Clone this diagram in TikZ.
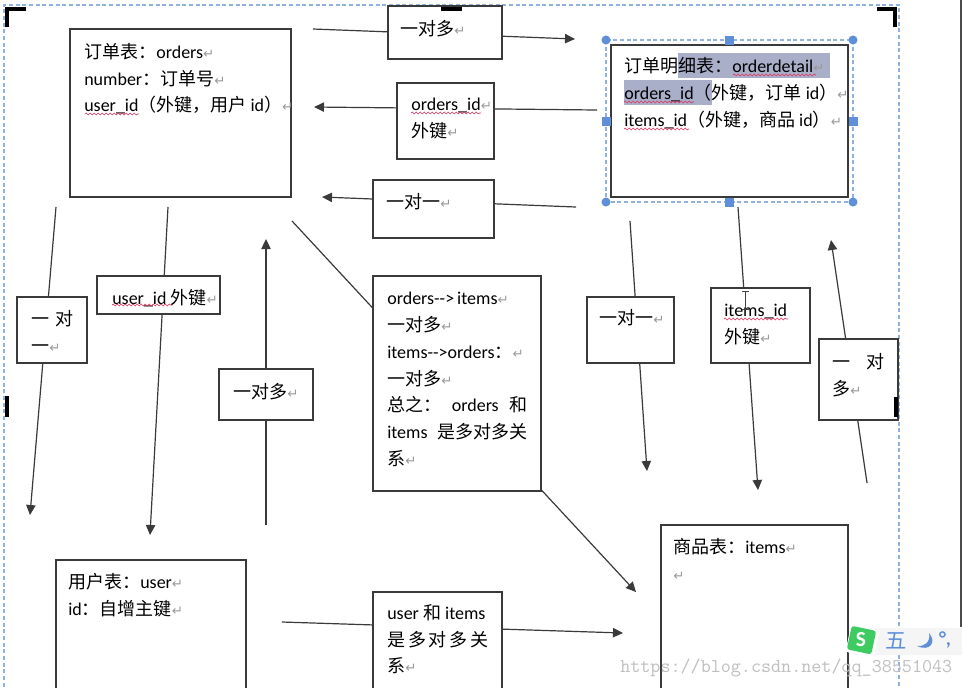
\documentclass[tikz,border=0pt]{standalone}
\usepackage{fontspec}
\setmainfont{Carlito}
\newfontfamily\cjkfont{Noto Sans CJK SC}
\newfontfamily\symfont{DejaVu Sans}
\usetikzlibrary{arrows.meta,decorations.pathmorphing}

\definecolor{linegray}{HTML}{3A3A3A}
\definecolor{retgray}{HTML}{9A9A9A}
\definecolor{handleblue}{HTML}{5F8FD8}
\definecolor{dashblue}{HTML}{8FB2E0}
\definecolor{selgray}{HTML}{A9AEC9}
\definecolor{spellred}{HTML}{E0305A}
\definecolor{imegreen}{HTML}{3DCB62}

\newcommand{\zh}[1]{{\cjkfont #1}}
\newcommand{\ret}{{\color{retgray}\symfont\fontsize{10}{10}\selectfont\char"21B5}}

\tikzset{
  box/.style={line width=1.05pt,draw=linegray},
  lblbox/.style={line width=1.05pt,draw=linegray,fill=white},
  txt/.style={inner sep=0pt,anchor=north west,align=left,
    font=\fontsize{13.5}{20.1}\selectfont,execute at begin node=\strut},
  arrow/.style={line width=0.9pt,draw=linegray,-{Triangle[length=7.5pt,width=7pt]}},
  spell/.style={spellred,line width=0.45pt,decorate,
    decoration={snake,amplitude=0.7pt,segment length=3pt}},
  crop/.style={line width=3pt,black},
  handle/.style={fill=handleblue},
  outline/.style={dashblue,line width=0.9pt,densely dashed}
}

\begin{document}
\begin{tikzpicture} [x=0.75pt,y=-0.75pt]

\useasboundingbox (0,0) rectangle (962,687);
\clip (0,0) rectangle (962,687);
\fill [white] (0,0) rectangle (962,687);

% page frame
\draw [outline] (4,700) -- (4,5) -- (899,5) -- (899,700);
\draw [line width=0.9pt,black!70] (961,0) -- (961,627);

% selected text
\fill [selgray] (678,53) rectangle (830,78);
\fill [selgray] (624,80) rectangle (712,105);

% free ends
\coordinate (topA) at (313,29);
\coordinate (topB) at (575,39);
\coordinate (fkA) at (597,110);
\coordinate (fkB) at (314,107);
\coordinate (oneA) at (576,207);
\coordinate (oneB) at (322,197);
\coordinate (leftA) at (56,207);
\coordinate (leftB) at (30,515);
\coordinate (userA) at (168,207);
\coordinate (userB) at (150,535);
\coordinate (upA) at (266,525);
\coordinate (upB) at (266,239);
\coordinate (diagA) at (292,221);
\coordinate (diagB) at (636,592);
\coordinate (rightA) at (630,221);
\coordinate (rightB) at (647,471);
\coordinate (itemA) at (738,207);
\coordinate (itemB) at (758,490);
\coordinate (farA) at (867,483);
\coordinate (farB) at (831,240);
\coordinate (botA) at (282,622);
\coordinate (botB) at (623,633);

\draw [arrow] (topA) -- (topB);
\draw [arrow] (fkA) -- (fkB);
\draw [arrow] (oneA) -- (oneB);
\draw [arrow] (leftA) -- (leftB);
\draw [arrow] (userA) -- (userB);
\draw [arrow] (upA) -- (upB);
\draw [arrow] (diagA) -- (diagB);
\draw [arrow] (rightA) -- (rightB);
\draw [arrow] (itemA) -- (itemB);
\draw [arrow] (farA) -- (farB);
\draw [arrow] (botA) -- (botB);

% tables
\draw [box] (70,29) rectangle (291,197);
\node (orders) [txt] at (84,43) {\zh{订单表：}orders\ret\\number\zh{：订单号}\ret\\user\_id\zh{（外键，用户} id\zh{）}\ret};

\draw [box] (611,45) rectangle (848,197);
\node (detail) [txt] at (624,57) {\zh{订单明细表：}orderdetail\ret\\orders\_id\zh{（外键，订单} id\zh{）}\ret\\items\_id\zh{（外键，商品} id\zh{）}\ret};

\draw [box] (661,525) rectangle (848,700);
\node (items) [txt] at (673,538) {\zh{商品表：}items\ret\\\ret};

\draw [box] (56,560) rectangle (246,700);
\node (user) [txt] at (68,573) {\zh{用户表：}user\ret\\id\zh{：自增主键}\ret};

% labels on the lines
\draw [lblbox] (388,6) rectangle (502,59);
\node (topLbl) [txt] at (400,16) {\zh{一对多}\ret};

\draw [lblbox] (397,83) rectangle (494,159);
\node (fkLbl) [txt] at (411,98) {orders\_id\ret\\\zh{外键}\ret};

\draw [lblbox] (373,180) rectangle (494,238);
\node (oneLbl) [txt] at (386,189) {\zh{一对一}\ret};

\draw [lblbox] (17,297) rectangle (87,363);
\node (leftLbl) [txt] at (31,310) {\zh{一\hspace{4.5pt}对}\\\zh{一}\ret};

\draw [lblbox] (97,276) rectangle (220,314);
\node (userLbl) [txt] at (112,285) {user\_id \zh{外键}\ret};

\draw [lblbox] (219,369) rectangle (313,420);
\node (upLbl) [txt] at (233,379) {\zh{一对多}\ret};

\draw [lblbox] (373,276) rectangle (541,491);
\node (midLbl) [txt] at (387,292) {orders-{}->\,items\ret\\\zh{一对多}\ret\\items-{}->orders\zh{：}\ret\\\zh{一对多}\ret\\\makebox[105pt][s]{\zh{总之：}\hfil orders\hfil\zh{和}}\\\makebox[105pt][s]{items\hfil\zh{是多对多关}}\\\zh{系}\ret};

\draw [lblbox] (587,297) rectangle (674,363);
\node (rightLbl) [txt] at (599,305) {\zh{一对一}\ret};

\draw [lblbox] (711,288) rectangle (810,363);
\node (itemLbl) [txt] at (724,304) {items\_id\\\zh{外键}\ret};

\draw [lblbox] (819,339) rectangle (898,420);
\node (farLbl) [txt] at (832,353) {\makebox[39pt][s]{\zh{一}\hfil\zh{对}}\\\zh{多}\ret};

\draw [lblbox] (373,592) rectangle (502,700);
\node (botLbl) [txt] at (387,604) {user \zh{和} items\\\makebox[76pt][s]{\zh{是}\hfil\zh{多}\hfil\zh{对}\hfil\zh{多}\hfil\zh{关}}\\\zh{系}\ret};

% spelling marks
\draw [spell] (85,114) -- (139,114);
\draw [spell] (733,75) -- (816,75);
\draw [spell] (624,102) -- (694,102);
\draw [spell] (624,129) -- (689,129);
\draw [spell] (411,113) -- (481,113);
\draw [spell] (112,305) -- (172,305);
\draw [spell] (724,319) -- (788,319);

% crop marks
\draw [crop] (7,27) -- (7,9) -- (26,9);
\draw [crop] (877,9) -- (895,9) -- (895,27);
\draw [crop] (441,9) -- (462,9);
\draw [crop] (7,396) -- (7,417);
\draw [crop] (895.5,397) -- (895.5,417);

% selection frame
\draw [outline] (606,40) rectangle (853,202);
\foreach \hx/\hy in {606/40,853/40,606/202,853/202}
  \fill [handle] (\hx,\hy) circle (3.4pt);
\foreach \hx/\hy in {729.5/40,606/121,853/121,729.5/202}
  \fill [handle] (\hx,\hy) +(-4.5,-4.5) rectangle +(4.5,4.5);

% text cursor
\draw [black!75,line width=0.7pt] (742,291) -- (749,291) (745.5,291) -- (745.5,309) (742,309) -- (749,309);

% input method bar
\fill [black!4,rounded corners=2pt] (852,628) rectangle (966,655);
\fill [white,rounded corners=2pt,rotate around={-12:(862,641)}] (848,627) rectangle (877,655);
\fill [imegreen,rounded corners=2pt,rotate around={-12:(861,640)}] (849,628) rectangle (874,652);
\node (imeS) [white,font=\fontsize{16}{16}\bfseries\selectfont,inner sep=0pt] at (861,640) {S};
\node (imeWu) [handleblue,font=\cjkfont\fontsize{16}{16}\selectfont,inner sep=0pt] at (896,641) {五};
\fill [handleblue] (929,633) .. controls (937,642) and (930,652) .. (917,646) .. controls (924,647) and (931,642) .. (929,633);
\node (imeDot) [handleblue,font=\bfseries\fontsize{15}{15}\selectfont,inner sep=0pt] at (945,640) {°,};

% watermark
\node (mark) [black!25,font=\ttfamily\fontsize{14.65}{14.65}\selectfont,inner sep=0pt,anchor=west] at (620,668) {https://blog.csdn.net/qq\_38551043};

\end{tikzpicture}
\end{document}
